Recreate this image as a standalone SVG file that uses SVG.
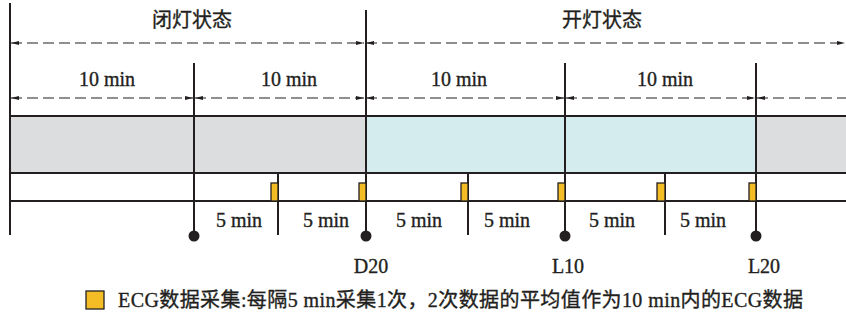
<svg xmlns="http://www.w3.org/2000/svg" width="846" height="320" viewBox="0 0 846 320">
<style>
.t{font-family:"Liberation Serif","Noto Sans CJK SC",serif;font-size:20px;fill:#231f20;stroke:#231f20;stroke-width:0.35;text-anchor:middle}
.ln{stroke:#231f20;stroke-width:2;fill:none}
.dash{stroke:#231f20;stroke-width:1.2;stroke-dasharray:11 5;fill:none}
.y{fill:#f5bd25;stroke:#231f20;stroke-width:1.3}
.dot{fill:#231f20}
</style>
<defs>
<marker id="ae" viewBox="0 0 8 4" refX="8" refY="2" markerWidth="8" markerHeight="4" markerUnits="userSpaceOnUse" orient="auto">
<path d="M0,0 L8,2 L0,4 Z" fill="#231f20"/>
</marker>
<marker id="as" viewBox="0 0 8 4" refX="0" refY="2" markerWidth="8" markerHeight="4" markerUnits="userSpaceOnUse" orient="auto">
<path d="M8,0 L0,2 L8,4 Z" fill="#231f20"/>
</marker>
</defs>
<g id="bars">
<rect x="10" y="116" width="356" height="57" fill="#dcdddf"/>
<rect x="366" y="116" width="390" height="57" fill="#d5ecee"/>
<rect x="756" y="116" width="90" height="57" fill="#dcdddf"/>
</g>
<g id="connectors">
<line class="dash" x1="11" y1="43" x2="364" y2="43" marker-start="url(#as)" marker-end="url(#ae)"/>
<line class="dash" x1="366" y1="43" x2="845" y2="43" marker-start="url(#as)" marker-end="url(#ae)"/>
<line class="dash" x1="11" y1="98" x2="193" y2="98" marker-start="url(#as)" marker-end="url(#ae)"/>
<line class="dash" x1="195" y1="98" x2="364" y2="98" marker-start="url(#as)" marker-end="url(#ae)"/>
<line class="dash" x1="366" y1="98" x2="564" y2="98" marker-start="url(#as)" marker-end="url(#ae)"/>
<line class="dash" x1="566" y1="98" x2="755" y2="98" marker-start="url(#as)" marker-end="url(#ae)"/>
<line class="dash" x1="757" y1="98" x2="846" y2="98" marker-start="url(#as)"/>
<line class="ln" x1="10" y1="116" x2="846" y2="116"/>
<line class="ln" x1="10" y1="173" x2="846" y2="173"/>
<line class="ln" x1="10" y1="201" x2="846" y2="201"/>
<line class="ln" x1="10" y1="3" x2="10" y2="235"/>
<line class="ln" x1="366" y1="10" x2="366" y2="236"/>
<line class="ln" x1="194" y1="63" x2="194" y2="236"/>
<line class="ln" x1="565" y1="63" x2="565" y2="236"/>
<line class="ln" x1="756" y1="63" x2="756" y2="236"/>
<line class="ln" x1="278" y1="173" x2="278" y2="235"/>
<line class="ln" x1="468" y1="173" x2="468" y2="235"/>
<line class="ln" x1="665" y1="173" x2="665" y2="235"/>
</g>
<g id="samples">
<rect class="y" x="271" y="183" width="7" height="18"/>
<rect class="y" x="359" y="183" width="7" height="18"/>
<rect class="y" x="461" y="183" width="7" height="18"/>
<rect class="y" x="558" y="183" width="7" height="18"/>
<rect class="y" x="657" y="183" width="8" height="18"/>
<rect class="y" x="749" y="183" width="7" height="18"/>
</g>
<g id="points">
<circle class="dot" cx="194" cy="236" r="5.5"/>
<circle class="dot" cx="366" cy="236" r="5.5"/>
<circle class="dot" cx="565" cy="236" r="5.5"/>
<circle class="dot" cx="756" cy="236" r="5.5"/>
</g>
<g id="titles">
<text class="t" x="192" y="27">闭灯状态</text>
<text class="t" x="602" y="27">开灯状态</text>
</g>
<g id="durations">
<text class="t" x="107" y="86">10 min</text>
<text class="t" x="289" y="86">10 min</text>
<text class="t" x="459" y="86">10 min</text>
<text class="t" x="665" y="86">10 min</text>
<text class="t" x="239" y="227">5 min</text>
<text class="t" x="326" y="227">5 min</text>
<text class="t" x="419" y="227">5 min</text>
<text class="t" x="507" y="227">5 min</text>
<text class="t" x="612" y="227">5 min</text>
<text class="t" x="703" y="227">5 min</text>
</g>
<g id="labels">
<text class="t" x="371" y="273">D20</text>
<text class="t" x="568" y="273">L10</text>
<text class="t" x="764" y="273">L20</text>
</g>
<g id="legend">
<rect class="y" x="86" y="291" width="18" height="18"/>
<text class="t" x="118" y="307" style="text-anchor:start" textLength="685" lengthAdjust="spacing">ECG数据采集:每隔5 min采集1次，2次数据的平均值作为10 min内的ECG数据</text>
</g>
</svg>
